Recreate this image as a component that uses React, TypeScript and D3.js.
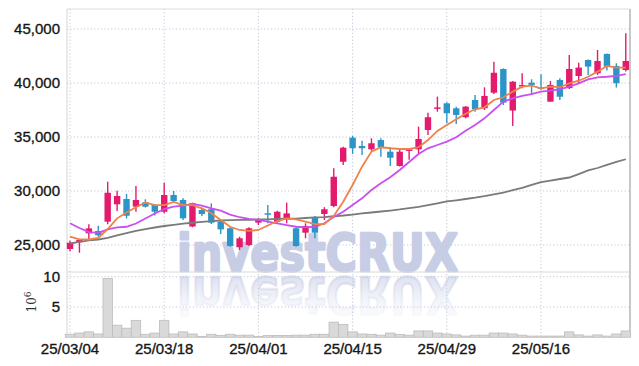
import React from 'react';
import * as d3 from 'd3';

// trading days shown on the chart (yy/mm/dd)
const dates = [
  '25/03/04', '25/03/05', '25/03/06', '25/03/07', '25/03/10', '25/03/11', '25/03/12', '25/03/13', '25/03/14', '25/03/17',
  '25/03/18', '25/03/19', '25/03/20', '25/03/21', '25/03/24', '25/03/25', '25/03/26', '25/03/27', '25/03/28', '25/03/31',
  '25/04/01', '25/04/02', '25/04/03', '25/04/04', '25/04/07', '25/04/08', '25/04/09', '25/04/10', '25/04/11', '25/04/14',
  '25/04/15', '25/04/16', '25/04/17', '25/04/18', '25/04/21', '25/04/22', '25/04/23', '25/04/24', '25/04/25', '25/04/28',
  '25/04/29', '25/04/30', '25/05/02', '25/05/07', '25/05/08', '25/05/09', '25/05/12', '25/05/13', '25/05/14', '25/05/15',
  '25/05/16', '25/05/19', '25/05/20', '25/05/21', '25/05/22', '25/05/23', '25/05/26', '25/05/27', '25/05/28', '25/05/29',
];
const tickDates = ['25/03/04', '25/03/18', '25/04/01', '25/04/15', '25/04/29', '25/05/16'];

const opens = [
  24630, 25250, 26080, 26300, 27160, 28770, 29260, 28550, 28950, 28700,
  28080, 29630, 29170, 26710, 28240, 28310, 27160, 26550, 24790, 25000,
  27070, 27940, 27160, 27470, 26550, 26140, 27560, 27870, 28610, 32710,
  34940, 34170, 33860, 34720, 33640, 32320, 33750, 33860, 35650, 37710,
  38120, 37660, 36830, 38430, 37660, 39100, 41300, 37450, 39680, 40030,
  39600, 38270, 40280, 39530, 40650, 42130, 40900, 42690, 41580, 41200,
];
const highs = [
  25400, 25560, 26920, 26790, 30860, 30030, 29720, 30460, 29230, 28770,
  30770, 30000, 29320, 28920, 28450, 28860, 27320, 26640, 25770, 26640,
  27470, 28700, 28180, 28920, 26640, 27010, 27690, 28500, 32100, 34100,
  35090, 34660, 34880, 34880, 34050, 33960, 33990, 35960, 37250, 38740,
  38220, 37810, 37870, 38890, 39600, 41970, 41350, 40190, 40900, 40340,
  40810, 40190, 40430, 42600, 41880, 42180, 43060, 42730, 41830, 44600,
];
const lows = [
  24420, 24290, 25370, 25770, 26920, 28150, 27460, 28080, 28470, 27730,
  27930, 28920, 27320, 26650, 27690, 26940, 26020, 24840, 24540, 24910,
  26850, 27010, 27070, 27010, 24840, 25620, 25620, 27320, 28500, 32410,
  33430, 33330, 33730, 33180, 32320, 32270, 32900, 33330, 35190, 37340,
  36270, 36200, 36730, 37340, 37500, 38980, 37960, 36020, 39520, 38980,
  39350, 38270, 38430, 39450, 39970, 40740, 40740, 41150, 39580, 41060,
];
const closes = [
  25210, 25460, 26540, 25900, 29840, 29540, 27710, 29170, 28550, 28080,
  29630, 29070, 27470, 28860, 27870, 27070, 26450, 24910, 25620, 26550,
  27320, 27900, 28080, 27930, 24910, 26760, 26140, 28310, 31320, 34010,
  33960, 33960, 34420, 34050, 33080, 33640, 33850, 34820, 36830, 37740,
  37200, 37040, 37810, 37570, 38800, 40950, 38180, 40120, 39820, 39820,
  39450, 39820, 38730, 41300, 41430, 41520, 42040, 41520, 39980, 42040,
];
// volume, millions of shares
const volumes = [
  0.5, 0.7, 0.9, 0.55, 9.7, 2.0, 1.5, 2.8, 0.5, 0.7,
  2.8, 0.55, 0.9, 0.55, 0.15, 0.5, 0.3, 0.5, 0.35, 0.35,
  0.15, 0.3, 0.3, 0.3, 0.35, 0.35, 0.5, 0.5, 2.5, 2.1,
  0.9, 0.55, 0.5, 0.35, 0.7, 0.45, 0.35, 1.05, 1.05, 0.7,
  0.55, 0.4, 0.2, 0.35, 0.35, 0.7, 0.7, 0.55, 0.35, 0.2,
  0.2, 0.2, 0.2, 0.9, 0.4, 0.2, 0.4, 0.2, 0.55, 1.05,
];
// moving averages as drawn
const maShort = [
  25770, 25530, 25510, 25650, 26480, 27470, 28010, 28490, 28950, 28700,
  28700, 28980, 28700, 28700, 28400, 27940, 27320, 26690, 26390, 26300,
  26390, 26800, 27220, 27470, 27380, 27160, 26940, 26940, 27690, 29010,
  30560, 32250, 33650, 34050, 33960, 33890, 33890, 34050, 34720, 35560,
  36110, 36640, 37150, 37570, 37750, 38430, 38680, 39200, 39660, 39750,
  39510, 39660, 39610, 39970, 40210, 40580, 41050, 41580, 41420, 41420,
];
const maMid = [
  27010, 26570, 26200, 26130, 26450, 26640, 26690, 26990, 27450, 27920,
  28330, 28550, 28640, 28800, 28640, 28400, 28190, 27820, 27570, 27410,
  27320, 27160, 27010, 26850, 26690, 26640, 26690, 27010, 27590, 28080,
  28700, 29320, 30090, 30710, 31270, 31950, 32690, 33430, 33950, 34260,
  34570, 34970, 35570, 36110, 36730, 37500, 38270, 38580, 38800, 38980,
  39200, 39290, 39420, 39660, 39970, 40340, 40530, 40580, 40650, 40830,
];
const maLong = [
  25140, 25280, 25420, 25510, 25670, 25880, 26110, 26300, 26480, 26620,
  26760, 26870, 26970, 27060, 27150, 27220, 27270, 27300, 27320, 27330,
  27360, 27380, 27410, 27430, 27450, 27500, 27550, 27590, 27660, 27730,
  27820, 27920, 28010, 28100, 28190, 28290, 28410, 28540, 28700, 28860,
  29030, 29140, 29260, 29380, 29520, 29680, 29860, 30070, 30280, 30560,
  30830, 30970, 31110, 31250, 31570, 31900, 32130, 32410, 32690, 32940,
];

const UP = '#e31b6d';
const DOWN = '#2c95c8';
const GRID = '#c3c7d8';
const MARK = '#c6cde5';
const FONT = '"Liberation Sans Narrow", "Liberation Sans", sans-serif';
const INK = '#161616';

const App = () => {
  const left = 67, right = 630, top = 9, priceBottom = 272, volBottom = 337.3;

  const x = d3.scaleBand().domain(dates).range([65.3, 630.5]).padding(0);
  const cx = (d: string) => (x(d) as number) + x.bandwidth() / 2;
  const y = d3.scaleLinear().domain([22500, 46852]).range([priceBottom, top]);
  const yv = d3.scaleLinear().domain([0, 10.78]).range([volBottom, priceBottom]);
  const fmt = d3.format(',');
  const bodyW = x.bandwidth() * 0.68;

  const line = (vals: number[]) =>
    d3.line<number>().x((_, i) => cx(dates[i])).y(v => y(v))(vals) as string;

  const markProps = {
    x: 177, y: 271, fontFamily: '"DejaVu Sans", sans-serif', fontWeight: 'bold', fontSize: 52,
    textLength: 281, lengthAdjust: 'spacingAndGlyphs', strokeWidth: 2.4, strokeLinejoin: 'round' as const,
  };

  return (
    <svg width={639} height={366} style={{ position: 'absolute', left: 0, top: 0 }}>
      <defs>
        <linearGradient id="refl" x1="0" y1="0" x2="0" y2="1">
          <stop offset="0" stopColor={MARK} stopOpacity={0} />
          <stop offset="0.4" stopColor={MARK} stopOpacity={0.2} />
          <stop offset="1" stopColor={MARK} stopOpacity={0.75} />
        </linearGradient>
      </defs>
      <rect width={639} height={366} fill="#fff" />

      {/* grid */}
      {y.ticks(5).map(t => (
        <line key={t} x1={left} x2={right} y1={y(t)} y2={y(t)} stroke={GRID} strokeDasharray="1.2,2.2" />
      ))}
      {[5, 10].map(t => (
        <line key={'v' + t} x1={left} x2={right} y1={yv(t)} y2={yv(t)} stroke={GRID} strokeDasharray="1.2,2.2" />
      ))}
      {tickDates.map(d => (
        <line key={d} x1={cx(d)} x2={cx(d)} y1={top} y2={volBottom} stroke={GRID} strokeDasharray="1.2,2.2" />
      ))}

      {/* watermark */}
      <text {...markProps} fill={MARK} stroke={MARK}>investCRUX</text>
      <g transform={`translate(0, ${2 * 274}) scale(1,-1)`}>
        <text {...markProps} fill="url(#refl)" stroke="url(#refl)">investCRUX</text>
      </g>

      {/* frame */}
      <line x1={left} x2={left} y1={top} y2={volBottom} stroke="#d4d4d4" />
      <line x1={left} x2={right} y1={top} y2={top} stroke="#dcdcdc" />
      <line x1={left} x2={right} y1={priceBottom} y2={priceBottom} stroke="#d8d8d8" />
      <line x1={right} x2={right} y1={top} y2={volBottom} stroke="#c8c8c8" strokeWidth={2} />

      {/* volume */}
      {dates.map((d, i) => (
        <rect key={'vol' + d} x={x(d)} y={yv(volumes[i])} width={x.bandwidth()}
          height={yv(0) - yv(volumes[i])} fill="#d9d9d9" stroke="#bcbcbc" strokeWidth={0.8} />
      ))}
      <line x1={left} x2={right} y1={volBottom} y2={volBottom} stroke="#d0d0d0" />

      {/* candles */}
      {dates.map((d, i) => {
        const up = closes[i] >= opens[i];
        const c = up ? UP : DOWN;
        const yt = y(Math.max(opens[i], closes[i]));
        const yb = y(Math.min(opens[i], closes[i]));
        return (
          <g key={'c' + d}>
            <line x1={cx(d)} x2={cx(d)} y1={y(highs[i])} y2={y(lows[i])} stroke={c} strokeWidth={1.4} />
            <rect x={cx(d) - bodyW / 2} y={yt} width={bodyW} height={Math.max(1.5, yb - yt)} fill={c} />
          </g>
        );
      })}

      {/* moving averages */}
      <path d={line(maLong)} fill="none" stroke="#7a7a7a" strokeWidth={1.8} />
      <path d={line(maMid)} fill="none" stroke="#c94ff0" strokeWidth={1.8} />
      <path d={line(maShort)} fill="none" stroke="#ef8248" strokeWidth={1.8} />

      {/* axes labels */}
      {y.ticks(5).map(t => (
        <text key={'l' + t} x={60} y={y(t)} dy="0.36em" textAnchor="end" fontFamily={FONT}
          fontSize={15} fill={INK} stroke={INK} strokeWidth={0.35}>{fmt(t)}</text>
      ))}
      {[5, 10].map(t => (
        <text key={'lv' + t} x={60} y={yv(t)} dy="0.36em" textAnchor="end" fontFamily={FONT}
          fontSize={15} fill={INK} stroke={INK} strokeWidth={0.35}>{t}</text>
      ))}
      <text transform="translate(36, 302) rotate(-90)" textAnchor="middle" fontFamily='"DejaVu Serif", serif'
        fontSize={12} fill="#333">10<tspan dy={-5} fontSize={9}>6</tspan></text>
      {tickDates.map(d => (
        <text key={'t' + d} x={cx(d)} y={354} textAnchor="middle" fontFamily={FONT}
          fontSize={15} fill={INK} stroke={INK} strokeWidth={0.35}>{d}</text>
      ))}
    </svg>
  );
};

export default App;
